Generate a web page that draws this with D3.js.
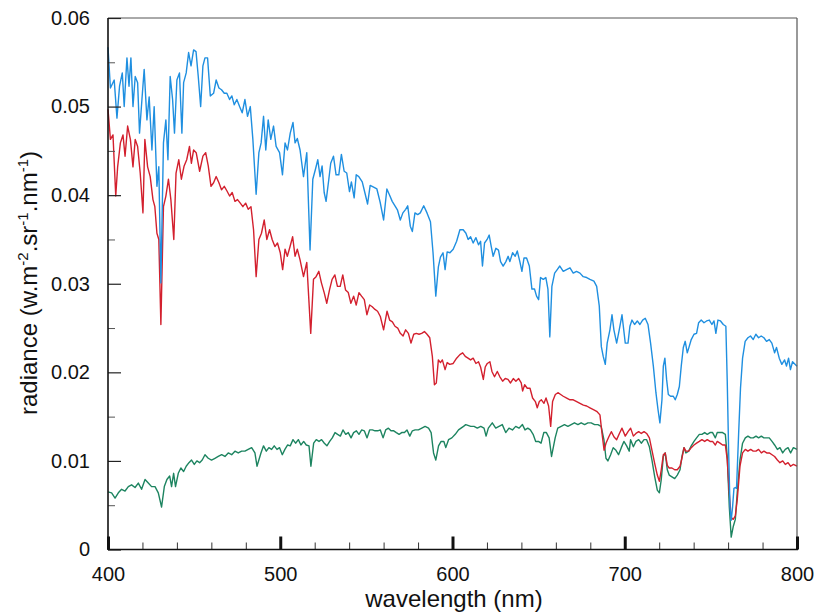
<!DOCTYPE html>
<html>
<head>
<meta charset="utf-8">
<script src="https://cdn.jsdelivr.net/npm/d3@7"></script>
<style>
  html, body { margin: 0; padding: 0; background: #fff; }
  svg { display: block; font-family: "Liberation Sans", Arial, Helvetica, sans-serif; }
</style>
</head>
<body>
<svg id="chart" width="817" height="614"></svg>
<script>
// ---------- data (wavelength in nm, radiance in W.m-2.sr-1.nm-1) ----------
const blueWavelength = [400,401.4,403.6,405.2,406.7,408.3,409.4,411,412.2,413.3,414.5,415.8,417.2,418.3,419.7,421,422.6,423.9,425.5,426.8,428.4,429.5,430.7,432.2,433.6,434.8,436.1,437.5,438.6,440,441.5,442.9,443.9,445.4,446.8,448.2,449.7,451.1,452.4,453.8,455.1,456.3,457.8,459.4,461.3,462.8,464.4,465.9,467.5,469,470.6,471.9,473.3,474.8,476.4,477.9,479.5,481,482.6,484.1,486,487.6,488.9,490.3,491.6,493,494.5,496.1,497.6,499.6,501.3,502.8,504.2,505.8,507.4,508.6,509.9,511.5,513.5,515.4,517.3,518.9,520.4,521.8,523.1,524.3,525.5,526.6,528.2,529.3,530.9,532.4,534,535.5,537.1,538.6,540.2,541.3,542.9,544.1,545.6,547.6,549.1,550.7,552.2,554.2,556.1,558,560,561.9,563.5,565,566.6,568.1,569.7,571.2,572.8,574,575.5,576.7,578.2,579.8,581.3,583.3,585.2,587.2,588.7,590.3,591.8,593,594.5,595.7,596.9,598.5,600.4,602.4,604.3,606.2,607.8,609.1,610.5,612,613.6,615.1,616.3,617.4,618.6,620.1,621.3,622.5,623.6,625.2,626.7,627.9,629.4,631,632.3,633.3,634.9,636.4,637.6,639.1,640.3,641.5,643,644.6,646.1,647.6,648.8,650,651.1,652.7,654.2,655.4,656.5,657.7,659.3,660.8,662.3,664.3,666.2,668.2,670.1,672,674,675.9,677.9,679.8,682.1,683.7,685.2,686.4,687.5,688.7,689.8,691.4,692.6,693.7,695.3,696.8,698.4,700.3,701.9,703,704.2,705.7,707.3,708.8,710.4,711.9,713.5,715,716.6,718.1,719.3,720.4,721.6,722.4,723.3,724.3,725.3,726.6,728.2,729.3,730.5,731.7,732.8,734,735.1,736.3,737.4,738.6,740.2,741.7,742.9,744.4,746,747.5,749.1,750.6,751.8,752.9,754.1,755.6,757.2,758.7,759.5,760.3,761.1,761.8,762.6,763.4,764.2,764.9,766.1,767.2,768.4,769.9,771.5,773,774.6,776.1,777.7,779.2,780.8,782.3,783.9,785.4,787,788.1,789.7,791.2,792.8,793.9,795.1,796.2,797.4,800];
const blueRadiance = [0.0567,0.0521,0.0530,0.0487,0.0523,0.0538,0.0500,0.0555,0.0523,0.0555,0.0500,0.0534,0.0527,0.0470,0.0508,0.0542,0.0485,0.0511,0.0451,0.0500,0.0410,0.0432,0.0301,0.0459,0.0485,0.0440,0.0534,0.0508,0.0470,0.0530,0.0538,0.0470,0.0527,0.0538,0.0561,0.0546,0.0564,0.0562,0.0534,0.0500,0.0546,0.0555,0.0555,0.0512,0.0515,0.0530,0.0521,0.0519,0.0515,0.0515,0.0508,0.0512,0.0502,0.0508,0.0500,0.0493,0.0508,0.0489,0.0500,0.0463,0.0401,0.0448,0.0459,0.0489,0.0451,0.0485,0.0463,0.0478,0.0455,0.0448,0.0423,0.0459,0.0451,0.0470,0.0482,0.0459,0.0464,0.0451,0.0421,0.0448,0.0338,0.0418,0.0429,0.0440,0.0421,0.0433,0.0403,0.0393,0.0418,0.0436,0.0444,0.0423,0.0423,0.0446,0.0427,0.0425,0.0404,0.0415,0.0397,0.0423,0.0421,0.0415,0.0403,0.0390,0.0411,0.0409,0.0407,0.0392,0.0372,0.0407,0.0400,0.0393,0.0388,0.0383,0.0372,0.0380,0.0384,0.0388,0.0365,0.0359,0.0380,0.0378,0.0380,0.0388,0.0380,0.0370,0.0335,0.0286,0.0319,0.0330,0.0335,0.0316,0.0336,0.0335,0.0339,0.0348,0.0361,0.0361,0.0357,0.0350,0.0353,0.0346,0.0352,0.0344,0.0348,0.0320,0.0346,0.0350,0.0355,0.0342,0.0331,0.0340,0.0338,0.0325,0.0320,0.0325,0.0331,0.0325,0.0335,0.0331,0.0337,0.0325,0.0314,0.0329,0.0329,0.0320,0.0294,0.0294,0.0286,0.0282,0.0307,0.0305,0.0307,0.0294,0.0240,0.0297,0.0312,0.0316,0.0320,0.0314,0.0316,0.0318,0.0312,0.0314,0.0312,0.0308,0.0307,0.0305,0.0303,0.0297,0.0275,0.0229,0.0218,0.0209,0.0233,0.0248,0.0265,0.0248,0.0233,0.0248,0.0265,0.0233,0.0233,0.0252,0.0259,0.0254,0.0258,0.0254,0.0259,0.0261,0.0254,0.0233,0.0207,0.0177,0.0158,0.0143,0.0169,0.0207,0.0216,0.0192,0.0175,0.0173,0.0173,0.0169,0.0175,0.0184,0.0207,0.0228,0.0235,0.0222,0.0229,0.0237,0.0243,0.0244,0.0256,0.0259,0.0256,0.0258,0.0259,0.0254,0.0258,0.0244,0.0259,0.0258,0.0254,0.0252,0.0190,0.0112,0.0048,0.0033,0.0048,0.0069,0.0070,0.0069,0.0130,0.0182,0.0216,0.0235,0.0239,0.0241,0.0237,0.0243,0.0239,0.0241,0.0239,0.0235,0.0237,0.0233,0.0222,0.0228,0.0216,0.0209,0.0214,0.0207,0.0216,0.0203,0.0212,0.0207];

const redWavelength = [400,401.4,402.9,404.5,405.6,407.2,408.7,409.9,411.4,413,414.5,415.8,417.2,418.7,420.3,421.4,423,424.5,426.1,427.2,428.4,429.5,430.7,432.2,433.6,435.1,436.5,438.2,439.5,441.1,442.6,444.2,445.7,447.3,448.4,449.7,451.2,453.2,455.1,456.7,458.2,459.8,461.3,462.8,464.4,465.9,467.5,469,470.6,472.1,473.7,475.2,476.8,478.3,479.9,481.4,483,484.5,486,487.6,489.1,490.7,492.2,493.8,495.3,496.9,498.4,500,501.4,502.8,504.1,505.7,507.2,508.6,509.9,511.5,513.5,515.4,517.7,519.3,520.8,522.4,523.9,525.5,527,528.6,530.1,531.7,533.2,534.8,536.3,537.9,539.5,541,542.6,544.1,545.7,547.2,548.8,550.3,551.9,553.4,555,556.5,558.1,560,562,563.5,565.1,566.6,568.2,569.7,571.3,572.8,574.4,575.9,577.5,579,580.6,582.1,583.7,585.2,586.8,588.3,589.5,590.6,591.8,593,594.1,595.7,596.9,598.4,600.4,602.4,604.3,605.9,607.4,609,610.5,612,613.6,615.1,616.3,617.9,619,620.2,621.7,622.9,624.4,626,627.5,629.1,630.6,632.2,633.7,635.3,636.8,638.4,639.9,640.7,641.9,643.4,645,646.5,648.1,649.2,650.4,651.6,653.1,654.3,655.8,657,658.1,659.7,661.2,662.8,664.3,666.3,668.2,670.1,672.1,674,676,677.9,679.8,681.8,683.7,685.6,686.8,688,689.1,690.7,692.2,693.8,695.3,696.9,698.4,700.3,701.9,703.4,705,706.5,708.1,709.6,711.2,712.7,714.3,715.8,717.4,718.9,720.1,721.2,722.4,723.5,724.7,725.8,727.4,729,730.5,732.1,733.2,734.4,735.5,737.1,738.6,740.2,741.7,743.3,744.8,746.4,747.9,749.5,751,752.6,753.7,755.3,756.8,758.4,759.5,760.7,761.8,763,764.2,765.3,766.9,768.4,770,771.5,773.1,774.6,776.2,777.7,779.3,780.8,782.4,783.9,785.5,787,788.6,790.1,791.7,793.2,794.8,796.3,797.9,800];
const redRadiance = [0.0497,0.0463,0.0468,0.0399,0.0432,0.0459,0.0468,0.0444,0.0478,0.0463,0.0432,0.0463,0.0455,0.0425,0.0380,0.0463,0.0432,0.0421,0.0395,0.0387,0.0357,0.0350,0.0254,0.0387,0.0399,0.0418,0.0395,0.0350,0.0425,0.0440,0.0418,0.0433,0.0440,0.0455,0.0436,0.0451,0.0448,0.0427,0.0444,0.0448,0.0433,0.0410,0.0414,0.0421,0.0414,0.0406,0.0410,0.0405,0.0399,0.0403,0.0393,0.0395,0.0391,0.0387,0.0391,0.0384,0.0387,0.0361,0.0308,0.0350,0.0357,0.0372,0.0350,0.0361,0.0350,0.0342,0.0346,0.0335,0.0316,0.0339,0.0331,0.0342,0.0353,0.0331,0.0339,0.0327,0.0308,0.0324,0.0244,0.0305,0.0308,0.0314,0.0301,0.0290,0.0278,0.0293,0.0305,0.0310,0.0297,0.0297,0.0310,0.0293,0.0290,0.0278,0.0286,0.0276,0.0290,0.0286,0.0282,0.0265,0.0276,0.0274,0.0271,0.0269,0.0263,0.0248,0.0269,0.0259,0.0257,0.0252,0.0250,0.0244,0.0241,0.0248,0.0244,0.0233,0.0243,0.0244,0.0243,0.0244,0.0246,0.0243,0.0239,0.0218,0.0186,0.0188,0.0214,0.0211,0.0214,0.0203,0.0211,0.0209,0.0210,0.0216,0.0220,0.0222,0.0218,0.0216,0.0214,0.0216,0.0210,0.0212,0.0206,0.0192,0.0206,0.0210,0.0212,0.0201,0.0195,0.0201,0.0195,0.0190,0.0193,0.0192,0.0188,0.0193,0.0190,0.0193,0.0188,0.0179,0.0186,0.0182,0.0182,0.0171,0.0167,0.0160,0.0167,0.0169,0.0165,0.0171,0.0162,0.0139,0.0167,0.0175,0.0177,0.0175,0.0173,0.0171,0.0169,0.0169,0.0167,0.0165,0.0163,0.0162,0.0160,0.0158,0.0156,0.0152,0.0131,0.0112,0.0120,0.0127,0.0133,0.0127,0.0124,0.0131,0.0137,0.0128,0.0133,0.0137,0.0128,0.0131,0.0133,0.0131,0.0133,0.0131,0.0126,0.0112,0.0097,0.0084,0.0077,0.0090,0.0107,0.0109,0.0095,0.0092,0.0092,0.0090,0.0090,0.0094,0.0103,0.0115,0.0111,0.0111,0.0115,0.0118,0.0120,0.0122,0.0124,0.0122,0.0124,0.0122,0.0122,0.0118,0.0122,0.0120,0.0118,0.0118,0.0101,0.0063,0.0036,0.0034,0.0038,0.0056,0.0094,0.0109,0.0113,0.0111,0.0113,0.0111,0.0111,0.0113,0.0109,0.0111,0.0109,0.0109,0.0107,0.0105,0.0101,0.0098,0.0100,0.0096,0.0098,0.0094,0.0096,0.0094];

const greenWavelength = [400,402.1,404.1,406,407.9,409.9,411.8,413.7,415.7,417.6,419.5,421.5,423.4,425.3,427.3,429.2,431.1,432.7,434.2,435.8,436.9,438.1,439.2,440.8,442.3,443.9,445.4,447,448.5,450.1,451.6,453.2,454.7,456.3,458.2,460.1,462.1,464,466,467.9,469.8,471.8,473.7,475.6,477.6,479.5,481.4,483.4,485.3,486.5,488.8,490.3,491.9,493.4,495,496.5,498.1,499.6,501.2,502.7,504.3,505.8,507.4,508.9,510.5,512,513.6,515.1,516.7,517.8,519.4,520.9,522.5,524,525.6,527.1,528.7,530.2,531.8,533.3,534.9,536.4,538,539.5,541.1,542.6,544.2,545.7,547.3,548.8,550.4,551.9,553.5,555,556.6,558.1,559.7,561.2,562.8,564.3,565.9,567.4,569,570.5,572.1,573.6,575.2,576.7,578.3,580.2,582.2,584.1,586.1,587.6,589,590.3,591.9,593.4,595,596.1,597.7,599.6,601.6,603.5,606.4,607.7,610.6,612.5,614.4,616.4,618.3,619.5,620.8,623.1,625.1,627,628.9,630.9,632.8,634.8,636.7,638.6,640.6,642.1,643.7,645.2,646.8,648.3,649.9,651.4,653,654.5,656.1,657.5,659.6,661.1,663.1,665,667,668.9,670.8,672.8,674.7,676.7,678.6,680.5,682.5,684.4,686.3,687.9,689.1,690.2,691.8,693.3,694.9,696.4,698,699.5,701.1,702.6,703.4,705,706.5,708.1,709.6,711.2,712.7,714.3,715.8,717.4,718.9,720.1,721.2,722.4,723.5,724.7,725.8,727.4,729,730.5,732.1,733.2,734.4,735.5,737.1,738.6,740.2,741.7,743.3,744.8,746.4,747.9,749.5,751,752.6,753.7,755.3,756.8,758.4,759.5,760.7,761.8,763,764.2,765.3,766.9,768.4,770,771.5,773.1,774.6,776.2,777.7,779.3,780.8,782.4,783.9,785.5,787,788.6,790.1,791.7,793.2,794.8,796.3,797.9,800];
const greenRadiance = [0.0065,0.0064,0.0058,0.0064,0.0068,0.0066,0.0071,0.0073,0.0070,0.0075,0.0068,0.0079,0.0075,0.0071,0.0071,0.0064,0.0048,0.0071,0.0079,0.0083,0.0071,0.0086,0.0071,0.0086,0.0092,0.0088,0.0094,0.0098,0.0101,0.0096,0.0100,0.0098,0.0101,0.0107,0.0103,0.0101,0.0103,0.0105,0.0107,0.0105,0.0109,0.0107,0.0111,0.0109,0.0111,0.0111,0.0113,0.0115,0.0109,0.0094,0.0109,0.0117,0.0111,0.0115,0.0113,0.0117,0.0113,0.0115,0.0107,0.0113,0.0118,0.0117,0.0124,0.0120,0.0124,0.0118,0.0122,0.0118,0.0117,0.0094,0.0120,0.0124,0.0122,0.0124,0.0120,0.0117,0.0122,0.0126,0.0132,0.0130,0.0128,0.0135,0.0130,0.0132,0.0126,0.0132,0.0134,0.0130,0.0135,0.0134,0.0126,0.0135,0.0135,0.0134,0.0134,0.0135,0.0126,0.0135,0.0137,0.0134,0.0134,0.0132,0.0130,0.0132,0.0132,0.0135,0.0128,0.0134,0.0135,0.0135,0.0137,0.0139,0.0137,0.0132,0.0109,0.0101,0.0117,0.0122,0.0122,0.0115,0.0124,0.0126,0.0130,0.0135,0.0139,0.0141,0.0139,0.0139,0.0137,0.0139,0.0137,0.0128,0.0137,0.0143,0.0137,0.0139,0.0141,0.0132,0.0137,0.0135,0.0139,0.0137,0.0141,0.0135,0.0137,0.0135,0.0130,0.0122,0.0122,0.0120,0.0132,0.0132,0.0126,0.0105,0.0126,0.0137,0.0139,0.0141,0.0139,0.0141,0.0143,0.0141,0.0143,0.0141,0.0143,0.0143,0.0141,0.0141,0.0139,0.0124,0.0103,0.0100,0.0107,0.0115,0.0112,0.0107,0.0115,0.0122,0.0117,0.0111,0.0124,0.0116,0.0122,0.0124,0.0120,0.0124,0.0124,0.0116,0.0101,0.0082,0.0067,0.0064,0.0079,0.0105,0.0109,0.0090,0.0084,0.0082,0.0080,0.0084,0.0090,0.0105,0.0115,0.0109,0.0111,0.0117,0.0122,0.0126,0.0130,0.0130,0.0132,0.0130,0.0132,0.0132,0.0126,0.0132,0.0132,0.0132,0.0130,0.0105,0.0048,0.0014,0.0026,0.0034,0.0064,0.0101,0.0120,0.0126,0.0128,0.0126,0.0126,0.0128,0.0126,0.0128,0.0126,0.0126,0.0126,0.0122,0.0118,0.0113,0.0115,0.0109,0.0113,0.0115,0.0109,0.0115,0.0113];

const xMajorTicks = [400, 500, 600, 700, 800];
const xMinorTicks = [420, 440, 460, 480, 520, 540, 560, 580, 620, 640, 660, 680, 720, 740, 760, 780];
const yMajorTicks = [0, 0.01, 0.02, 0.03, 0.04, 0.05, 0.06];
const yMinorTicks = [0.005, 0.015, 0.025, 0.035, 0.045, 0.055];
const yTickLabels = ["0", "0.01", "0.02", "0.03", "0.04", "0.05", "0.06"];

const seriesList = [
  { name: "green", wl: greenWavelength, val: greenRadiance, color: "#1d8460" },
  { name: "red",   wl: redWavelength,   val: redRadiance,   color: "#d3202e" },
  { name: "blue",  wl: blueWavelength,  val: blueRadiance,  color: "#1f8fe0" }
];

// ---------- layout ----------
const svg = d3.select("#chart");
const M = { left: 108, right: 797, top: 18, bottom: 549.5 };

const x = d3.scaleLinear().domain([400, 800]).range([M.left, M.right]);
const y = d3.scaleLinear().domain([0, 0.06]).range([M.bottom, M.top]);

// curves
const line = d3.line().x(d => x(d[0])).y(d => y(d[1]));
seriesList.forEach(s => {
  const pts = s.wl.map((w, i) => [w, s.val[i]]);
  svg.append("path")
    .datum(pts)
    .attr("fill", "none")
    .attr("stroke", s.color)
    .attr("stroke-width", 1.4)
    .attr("stroke-linejoin", "round")
    .attr("d", line);
});

// frame (top and right lighter)
svg.append("line").attr("x1", M.left).attr("x2", M.right).attr("y1", M.top).attr("y2", M.top)
  .attr("stroke", "#555").attr("stroke-width", 1);
svg.append("line").attr("x1", M.right).attr("x2", M.right).attr("y1", M.top).attr("y2", M.bottom)
  .attr("stroke", "#555").attr("stroke-width", 1.2);

// x axis: major ticks with labels
const gx = svg.append("g").attr("transform", `translate(0,${M.bottom})`)
  .call(d3.axisBottom(x).tickValues(xMajorTicks).tickSize(-13).tickPadding(17).tickFormat(d3.format("d")));
gx.select(".domain").remove();
gx.selectAll(".tick line").attr("stroke", "#111").attr("stroke-width", 3);
gx.selectAll(".tick text").attr("font-size", 20).attr("fill", "#111")
  .attr("font-family", "'Liberation Sans', Arial, sans-serif");

// x minor ticks
const gxm = svg.append("g").attr("transform", `translate(0,${M.bottom})`)
  .call(d3.axisBottom(x).tickValues(xMinorTicks).tickSize(-7).tickFormat(""));
gxm.select(".domain").remove();
gxm.selectAll(".tick line").attr("stroke", "#333").attr("stroke-width", 1);

// y axis major ticks with labels
const gy = svg.append("g").attr("transform", `translate(${M.left},0)`)
  .call(d3.axisLeft(y).tickValues(yMajorTicks).tickSize(-13).tickPadding(18)
    .tickFormat((d, i) => yTickLabels[i]));
gy.select(".domain").remove();
gy.selectAll(".tick line").attr("stroke", "#222").attr("stroke-width", 1.2);
gy.selectAll(".tick text").attr("font-size", 20).attr("fill", "#111")
  .attr("font-family", "'Liberation Sans', Arial, sans-serif");

// y minor ticks
const gym = svg.append("g").attr("transform", `translate(${M.left},0)`)
  .call(d3.axisLeft(y).tickValues(yMinorTicks).tickSize(-7).tickFormat(""));
gym.select(".domain").remove();
gym.selectAll(".tick line").attr("stroke", "#555").attr("stroke-width", 1);

// axis lines (left and bottom, dark)
svg.append("line").attr("x1", M.left).attr("x2", M.left).attr("y1", M.top).attr("y2", M.bottom + 0.5)
  .attr("stroke", "#111").attr("stroke-width", 1.6);
svg.append("line").attr("x1", M.left).attr("x2", M.right + 1).attr("y1", M.bottom).attr("y2", M.bottom)
  .attr("stroke", "#111").attr("stroke-width", 1.6);

// axis titles
svg.append("text")
  .attr("x", 454).attr("y", 607)
  .attr("text-anchor", "middle")
  .attr("font-size", 24).attr("fill", "#111")
  .text("wavelength (nm)");

const yt = svg.append("text")
  .attr("transform", `translate(37,283) rotate(-90)`)
  .attr("text-anchor", "middle")
  .attr("font-size", 24).attr("fill", "#111");
yt.append("tspan").text("radiance (w.m");
yt.append("tspan").attr("dy", -9).attr("font-size", 15).text("-2");
yt.append("tspan").attr("dy", 9).text(".sr");
yt.append("tspan").attr("dy", -9).attr("font-size", 15).text("-1");
yt.append("tspan").attr("dy", 9).text(".nm");
yt.append("tspan").attr("dy", -9).attr("font-size", 15).text("-1");
yt.append("tspan").attr("dy", 9).text(")");
</script>
</body>
</html>
